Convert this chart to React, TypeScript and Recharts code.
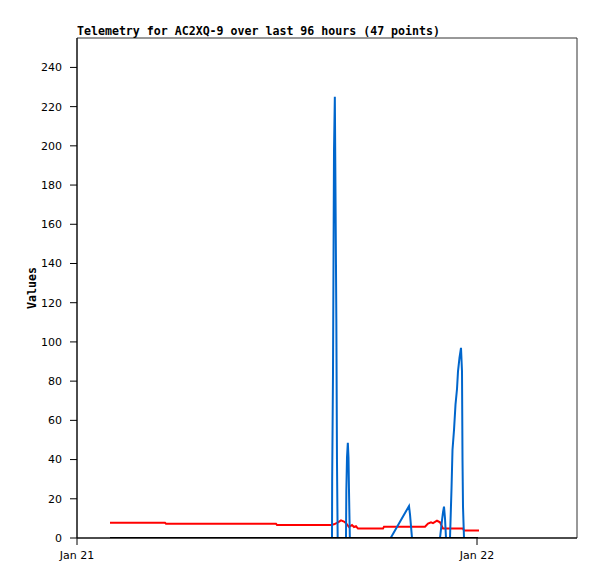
import React from 'react';
import { LineChart, Line, XAxis, YAxis, ReferenceArea } from 'recharts';

// hours since Jan 21 00:00
const xTicks = [0, 24];
const xTickLabels: Record<number, string> = { 0: 'Jan 21', 24: 'Jan 22' };
const yTicks = [0, 20, 40, 60, 80, 100, 120, 140, 160, 180, 200, 220, 240];

const redHours = [1.98, 5.28, 5.34, 11.94, 12.0, 15.24, 15.42, 15.66, 15.84, 16.02, 16.14, 16.32, 16.5, 16.62, 16.74, 16.86, 18.36, 18.42, 20.88, 21.06, 21.24, 21.36, 21.6, 21.78, 21.96, 23.16, 23.22, 24.12];
const redValues = [7.8, 7.8, 7.3, 7.3, 6.6, 6.6, 7.0, 8.0, 9.0, 8.4, 7.6, 5.6, 6.6, 5.6, 6.0, 4.8, 4.8, 5.8, 5.8, 7.4, 8.0, 7.6, 8.8, 8.0, 4.8, 4.8, 3.8, 3.8];

const blueHours = [1.98, 15.3, 15.31, 15.36, 15.42, 15.47, 15.5, 15.56, 15.6, 15.64, 16.14, 16.16, 16.2, 16.25, 16.29, 16.32, 16.37, 18.82, 19.92, 19.98, 20.1, 21.78, 21.9, 21.96, 22.02, 22.08, 22.14, 22.38, 22.47, 22.53, 22.62, 22.71, 22.8, 22.86, 22.95, 23.04, 23.1, 23.13, 23.16, 23.22, 24.06];
const blueValues = [0, 0, 29, 84, 197, 225, 188, 112, 38, 0, 0, 24, 41, 48.5, 41, 24, 0, 0, 16.3, 12, 0, 0, 9, 13, 16, 10, 0, 0, 25, 45, 55, 68, 76, 85, 92, 97, 85, 40, 16, 0, 0];

const blackHours = [1.98, 24.06];
const blackValues = [0, 0];

const toSeries = (hs: number[], vs: number[]) => hs.map((h, i) => ({ h, v: vs[i] }));

const redData = toSeries(redHours, redValues);
const blueData = toSeries(blueHours, blueValues);
const blackData = toSeries(blackHours, blackValues);

const tickStyle = { fontFamily: 'DejaVu Sans', fontSize: 11, fill: '#000' };
const monoBold = { fontFamily: 'DejaVu Sans Mono', fontSize: 11.6, fontWeight: 'bold' as const, fill: '#000' };

export default function App() {
  return (
    <div style={{ position: 'absolute', left: 0, top: 0, width: 597, height: 579, background: '#fff' }}>
      <LineChart width={597} height={579} margin={{ top: 38, right: 20, bottom: 0, left: 17 }}>
        <XAxis
          dataKey="h"
          type="number"
          domain={[0, 30]}
          ticks={xTicks}
          tickFormatter={(v: number) => xTickLabels[v] ?? ''}
          allowDataOverflow
          height={41}
          tickSize={7}
          tickMargin={6}
          tick={tickStyle}
          stroke="#000"
          axisLine={{ stroke: '#000' }}
          tickLine={{ stroke: '#000' }}
        />
        <YAxis
          type="number"
          domain={[0, 255]}
          ticks={yTicks}
          allowDataOverflow
          width={60}
          tickSize={7}
          tickMargin={8}
          tick={tickStyle}
          stroke="#000"
          axisLine={{ stroke: '#000' }}
          tickLine={{ stroke: '#000' }}
        />
        <ReferenceArea x1={0} x2={30} y1={0} y2={255} fill="none" stroke="#333" strokeWidth={1} ifOverflow="visible" />
        <Line data={redData} dataKey="v" type="linear" stroke="#ff0000" strokeWidth={2} dot={false} activeDot={false} isAnimationActive={false} />
        <Line data={blueData} dataKey="v" type="linear" stroke="#0066cc" strokeWidth={2} dot={false} activeDot={false} isAnimationActive={false} />
        <Line data={blackData} dataKey="v" type="linear" stroke="#000000" strokeWidth={2} dot={false} activeDot={false} isAnimationActive={false} />
      </LineChart>
      <svg width={597} height={579} style={{ position: 'absolute', left: 0, top: 0, pointerEvents: 'none' }}>
        <text x={77} y={35} style={monoBold}>Telemetry for AC2XQ-9 over last 96 hours (47 points)</text>
        <text x={32} y={288} textAnchor="middle" dominantBaseline="central" transform="rotate(-90, 32, 288)" style={monoBold}>Values</text>
      </svg>
    </div>
  );
}
